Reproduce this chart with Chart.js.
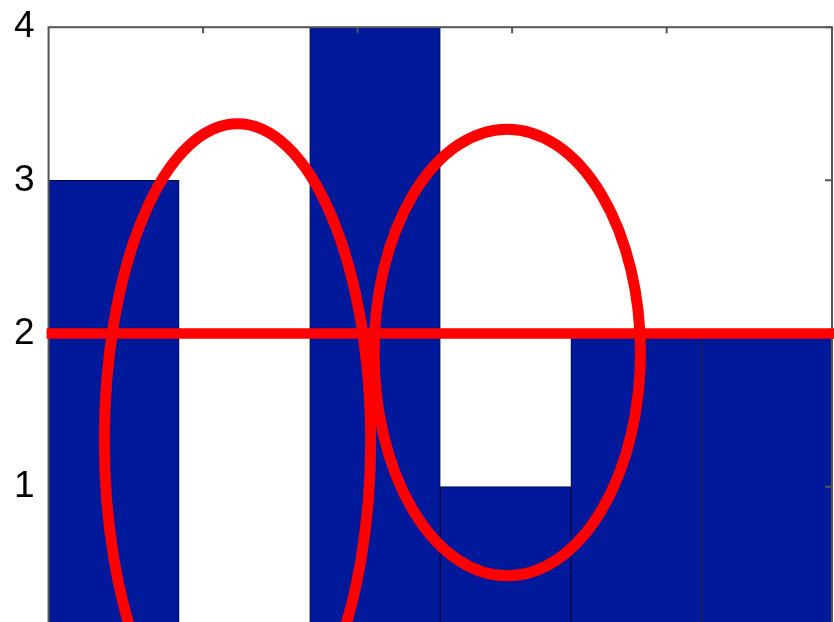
<!DOCTYPE html>
<html>
<head>
<meta charset="utf-8">
<script src="https://cdn.jsdelivr.net/npm/chart.js@4/dist/chart.umd.min.js"></script>
<style>
    html, body { margin: 0; padding: 0; background: #fff; }
    #wrap { width: 834px; height: 622px; overflow: hidden; position: relative; }
    #box { width: 834px; height: 685px; position: absolute; left: 0; top: -9px; }
</style>
</head>
<body>
<div id="wrap"><div id="box"><canvas id="histChart"></canvas></div></div>
<script>
// histogram counts
const binLabels = ['b1', 'b2', 'b3', 'b4', 'b5', 'b6'];
const binCounts = [3, 0, 4, 1, 2, 2];
const yTickValues = [0, 1, 2, 3, 4];
// top axis ticks (hidden linear axis units)
const topTickValues = [1, 2, 3, 4];

// red marks drawn over the plot, in data units (x = bin index, y = count)
const refLineY = 2;
const ellipseCenterX = [0.947, 3.013];
const ellipseCenterY = [1.30, 1.876];
const ellipseRadiusX = [1.02, 1.02];
const ellipseRadiusY = [2.07, 1.458];

const frameAndMarks = {
    id: 'frameAndMarks',
    afterDatasetsDraw(chart) {
        const { ctx, chartArea: a, scales } = chart;
        const x = scales.x, y = scales.y, x2 = scales.x2;
        ctx.save();

        // frame
        ctx.strokeStyle = '#555';
        ctx.lineWidth = 2;
        ctx.strokeRect(a.left, a.top, a.right - a.left, a.bottom - a.top);

        // inward tick marks
        ctx.lineWidth = 2;
        ctx.beginPath();
        topTickValues.forEach(v => {
            const px = x2.getPixelForValue(v);
            ctx.moveTo(px, a.top);
            ctx.lineTo(px, a.top + 6);
        });
        yTickValues.forEach(v => {
            const py = y.getPixelForValue(v);
            ctx.moveTo(a.right, py);
            ctx.lineTo(a.right - 7, py);
        });
        ctx.stroke();

        // red horizontal line
        ctx.strokeStyle = '#ff0000';
        ctx.lineWidth = 10.5;
        ctx.beginPath();
        const ly = y.getPixelForValue(refLineY);
        ctx.moveTo(a.left - 2, ly);
        ctx.lineTo(a.right + 2, ly);
        ctx.stroke();

        // red ellipses
        ctx.lineWidth = 11;
        ellipseCenterX.forEach((cx, i) => {
            const px = x.getPixelForValue(cx);
            const py = y.getPixelForValue(ellipseCenterY[i]);
            const rx = x.getPixelForValue(cx + ellipseRadiusX[i]) - px;
            const ry = py - y.getPixelForValue(ellipseCenterY[i] + ellipseRadiusY[i]);
            ctx.beginPath();
            ctx.ellipse(px, py, rx, ry, 0, 0, Math.PI * 2);
            ctx.stroke();
        });

        ctx.restore();
    }
};

new Chart(document.getElementById('histChart'), {
    type: 'bar',
    data: {
        labels: binLabels,
        datasets: [{
            data: binCounts,
            backgroundColor: '#00199b',
            borderColor: '#000a40',
            borderWidth: 1,
            barPercentage: 1,
            categoryPercentage: 1
        }]
    },
    options: {
        responsive: true,
        maintainAspectRatio: false,
        animation: false,
        layout: { padding: { left: 0, top: 17, right: 2, bottom: 0 } },
        plugins: {
            legend: { display: false },
            tooltip: { enabled: false }
        },
        scales: {
            x: { display: false },
            x2: { type: 'linear', display: false, offset: false, min: 0, max: 5.07 },
            y: {
                min: 0,
                max: 4,
                afterBuildTicks: s => { s.ticks = yTickValues.map(v => ({ value: v })); },
                grid: { display: false, drawTicks: false },
                border: { display: false },
                ticks: {
                    padding: 14,
                    color: '#000',
                    font: { family: 'Liberation Sans', size: 37 }
                }
            }
        }
    },
    plugins: [frameAndMarks]
});
</script>
</body>
</html>
